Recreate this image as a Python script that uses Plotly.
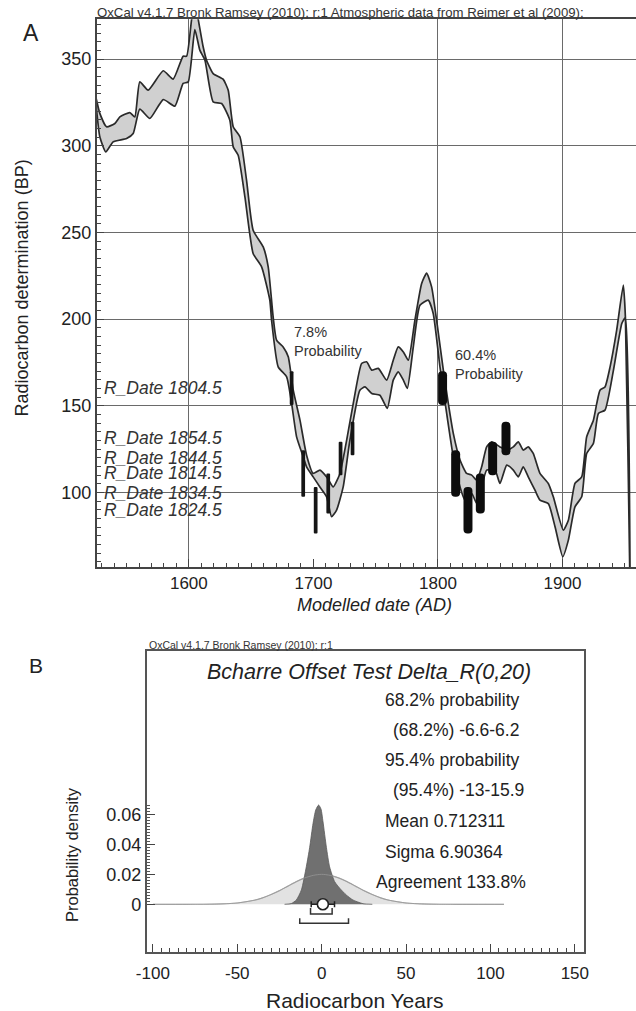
import plotly.graph_objects as go

W, H = 636, 1011
FONT = "Arial, Liberation Sans, sans-serif"

# ---------------- Panel A data ----------------
upper_year = [1525, 1528.5, 1533.9, 1540.6, 1544.6, 1552.6, 1556.6, 1560.6, 1567.3, 1579.4,
              1587.4, 1595.4, 1598.2, 1602.2, 1604.8, 1607.5, 1611.5, 1614.2, 1619.5, 1627.6,
              1631.6, 1635.6, 1641.0, 1646.3, 1651.6, 1659.7, 1663.7, 1667.7, 1670.4, 1675.7,
              1679.8, 1683.8, 1689.2, 1694.5, 1699.8, 1705.2, 1710.6, 1715.9, 1721.3, 1726.7,
              1732.0, 1738.7, 1742.7, 1746.8, 1752.1, 1758.8, 1764.1, 1768.1, 1772.2, 1776.2,
              1781.5, 1786.9, 1790.9, 1794.9, 1798.9, 1804.3, 1808.3, 1812.3, 1817.7, 1823.0,
              1827.1, 1831.1, 1835.1, 1839.1, 1843.1, 1849.8, 1855.2, 1860.5, 1864.5, 1868.5,
              1872.5, 1876.5, 1881.9, 1888.6, 1892.6, 1900.6, 1904.7, 1910.0, 1915.4, 1919.4,
              1924.8, 1927.5, 1930.1, 1934.1, 1938.2, 1943.5, 1948.8, 1950.5, 1954.3]
upper_bp = [329, 318.7, 311, 312.9, 316.7, 319.2, 316.7, 336.9, 332.1, 343.3,
            338.5, 351.7, 351.7, 373, 383, 373, 357, 349.4, 341.7, 338.3,
            332, 311, 305.2, 280.2, 251.3, 241.7, 230.2, 201, 187.9, 184,
            178.3, 159, 141.7, 121.5, 111, 112.9, 109, 103.2, 111, 130.2,
            151.4, 174.4, 175.4, 170.6, 171.6, 164.8, 176.3, 184, 181.1, 176.3,
            199.4, 220.6, 226.5, 218.6, 199.4, 170.6, 151.4, 134.1, 118.7, 111,
            110, 107.1, 114.8, 126.3, 129.2, 126.3, 124.4, 126.3, 129.2, 124.4,
            126.3, 122.5, 111, 105.2, 97.5, 78.3, 84, 105.2, 109, 132.1,
            141.7, 151.4, 159, 160.9, 172.5, 193.7, 219.6, 201, 40]

lower_year = [1525, 1528.5, 1533.3, 1539.2, 1550.0, 1555.3, 1560.6, 1568.7, 1579.4, 1588.8,
              1595.4, 1599.5, 1604.8, 1608.8, 1612.9, 1619.5, 1626.3, 1632.9, 1635.6, 1639.6,
              1645.0, 1651.6, 1658.4, 1665.0, 1666.4, 1671.7, 1678.5, 1682.5, 1686.5, 1691.8,
              1694.5, 1699.8, 1705.2, 1710.6, 1714.6, 1718.6, 1723.9, 1729.3, 1737.3, 1741.4,
              1746.8, 1753.4, 1759.3, 1764.1, 1768.1, 1772.2, 1775.4, 1780.2, 1785.5, 1792.2,
              1796.2, 1801.6, 1807.0, 1812.3, 1817.7, 1821.7, 1827.1, 1831.1, 1835.1, 1839.1,
              1845.8, 1849.8, 1855.2, 1860.5, 1864.5, 1868.5, 1872.5, 1877.9, 1881.9, 1888.6,
              1894.0, 1900.2, 1904.7, 1910.0, 1915.4, 1919.4, 1924.8, 1928.8, 1934.1, 1940.9,
              1947.6, 1950.5, 1954.3]
lower_bp = [329, 305.2, 296.5, 302.3, 304.2, 307.1, 321.2, 315.8, 326.7, 322.9,
            336, 336.9, 367, 355.2, 349.4, 325.4, 324.4, 314.8, 299.4, 294.6,
            270.6, 237.9, 230.2, 211, 199.4, 172.5, 166.7, 151.4, 132.1, 120.6,
            114.8, 109, 103.2, 97.5, 86, 89.8, 103.2, 130.2, 159, 160.9,
            157.1, 156.1, 148.5, 164.8, 169.6, 164.8, 160, 184, 208, 211,
            203.3, 172.5, 145.6, 120.6, 103.2, 95.6, 99.4, 93.6, 103.2, 112.9,
            112.9, 105.2, 115.8, 112.9, 109, 114.8, 109, 101.3, 95.6, 93.6,
            80.2, 62.9, 72.5, 91.7, 97.5, 122.5, 128.3, 145.6, 147.5, 170.6,
            197.5, 201, 40]

rdate_labels = ["R_Date 1804.5", "R_Date 1814.5", "R_Date 1824.5",
                "R_Date 1834.5", "R_Date 1844.5", "R_Date 1854.5"]
range_60_x = [1803.7, 1814.2, 1824.1, 1834.0, 1843.9, 1854.6]   # 60.4% probability ranges
range_8_x = [1682.5, 1691.8, 1701.8, 1711.9, 1721.8, 1731.4]    # 7.8% probability ranges
bp_low = [150.4, 97.5, 76.4, 87.9, 110.0, 121.5]
bp_high = [170.0, 124.4, 103.2, 111.0, 129.2, 140.8]

prob_labels = ["7.8%<br>Probability", "60.4%<br>Probability"]
prob_label_x = [1683.0, 1812.0]
prob_label_y = [187.3, 174.0]

xticks_a = [1600, 1700, 1800, 1900]
grid_x_a = [1600, 1800, 1900]
yticks_a = [100, 150, 200, 250, 300, 350]

# ---------------- Panel B data ----------------
prior_x = [-100, -80, -70, -60, -50, -40, -35, -30, -25, -20, -15, -10, -5, 0,
           5, 10, 15, 20, 25, 30, 35, 40, 50, 60, 70, 80, 108]
prior_d = [0, 0.00001, 0.00004, 0.00022, 0.00088, 0.0027, 0.0043, 0.0065, 0.0091, 0.0121,
           0.0151, 0.0176, 0.0193, 0.0200, 0.0193, 0.0176, 0.0151, 0.0121, 0.0091, 0.0065,
           0.0043, 0.0027, 0.00088, 0.00022, 0.00004, 0.00001, 0]
post_x = [-22, -18, -15, -12, -9.1, -7.1, -5.1, -3.5, -1.8, -0.4, 0.8, 2.8, 4.7, 7.7,
          10.7, 14.6, 18.5, 24.5, 30]
post_d = [0, 0.0005, 0.0029, 0.0096, 0.025, 0.038, 0.054, 0.0629, 0.0662, 0.0635, 0.055,
          0.038, 0.025, 0.0151, 0.0107, 0.0062, 0.0029, 0.0004, 0]
range68 = [-6.6, 6.2]
range95 = [-13.0, 15.9]
post_mean = 0.712311
post_sigma = 6.90364
xticks_b = [-100, -50, 0, 50, 100, 150]
yticks_b = [0, 0.02, 0.04, 0.06]
yticktext_b = ["0", "0.02", "0.04", "0.06"]
stats_lines = ["68.2% probability", "(68.2%) -6.6-6.2", "95.4% probability",
               "(95.4%) -13-15.9", "Mean 0.712311", "Sigma 6.90364", "Agreement 133.8%"]


def px(x):
    return x / W


def py(y):
    return 1 - y / H


fig = go.Figure()

# calibration band (closed polygon: upper then lower reversed)
fig.add_trace(go.Scatter(
    x=upper_year + lower_year[::-1], y=upper_bp + lower_bp[::-1],
    mode="lines", fill="toself", fillcolor="#d0d0d0",
    line=dict(color="#2a2a2a", width=1.7, shape="spline", smoothing=0.5),
    xaxis="x", yaxis="y", hoverinfo="skip", showlegend=False))

# probability ranges (on an overlay axis so that they sit above the band)
fig.add_trace(go.Bar(
    x=range_8_x, y=[h - l for h, l in zip(bp_high, bp_low)], base=bp_low, width=3.0,
    marker=dict(color="#151515", line=dict(width=0), cornerradius=2),
    xaxis="x3", yaxis="y", showlegend=False, hoverinfo="skip"))
fig.add_trace(go.Bar(
    x=range_60_x, y=[h - l for h, l in zip(bp_high, bp_low)], base=bp_low, width=7.2,
    marker=dict(color="#0d0d0d", line=dict(width=0), cornerradius=4),
    xaxis="x3", yaxis="y", showlegend=False, hoverinfo="skip"))

# Panel B: prior (light) and posterior (dark)
fig.add_trace(go.Scatter(
    x=prior_x, y=prior_d, mode="lines", fill="tozeroy", fillcolor="#e2e2e2",
    line=dict(color="#b4b4b4", width=1.2, shape="spline", smoothing=0.6),
    xaxis="x2", yaxis="y2", showlegend=False, hoverinfo="skip"))
fig.add_trace(go.Scatter(
    x=post_x, y=post_d, mode="lines", fill="tozeroy", fillcolor="#707070",
    line=dict(color="#5a5a5a", width=0.8, shape="spline", smoothing=0.6),
    xaxis="x2", yaxis="y2", showlegend=False, hoverinfo="skip"))
fig.add_trace(go.Scatter(
    x=prior_x, y=prior_d, mode="lines",
    line=dict(color="rgba(150,150,150,0.8)", width=1, shape="spline", smoothing=0.6),
    xaxis="x2", yaxis="y2", showlegend=False, hoverinfo="skip"))

# range brackets
for rng, yb, tick in [(range68, -0.0065, 0.004), (range95, -0.0127, 0.0034)]:
    fig.add_trace(go.Scatter(
        x=[rng[0], rng[0], rng[1], rng[1]], y=[yb + tick, yb, yb, yb + tick],
        mode="lines", line=dict(color="#333333", width=1.5),
        xaxis="x2", yaxis="y2", showlegend=False, hoverinfo="skip"))

# mean +/- sigma
fig.add_trace(go.Scatter(
    x=[post_mean], y=[0], mode="markers",
    marker=dict(size=11, color="white", line=dict(color="#222222", width=1.6)),
    error_x=dict(type="constant", value=post_sigma, color="#222222", thickness=1.5, width=3),
    xaxis="x2", yaxis="y2", showlegend=False, hoverinfo="skip"))

axis_font = dict(family=FONT, size=17, color="#222222")

fig.update_layout(
    width=W, height=H, margin=dict(l=0, r=0, t=0, b=0, autoexpand=False),
    paper_bgcolor="white", plot_bgcolor="white", barmode="overlay",
    showlegend=False,
    xaxis=dict(domain=[px(96.7), 1.0], range=[1526, 1959], anchor="y", automargin=False,
               tickmode="array", tickvals=xticks_a, ticktext=[str(v) for v in xticks_a],
               ticks="inside", ticklen=8, tickwidth=1.3, tickcolor="#444444",
               minor=dict(dtick=10, tick0=1500, ticks="inside", ticklen=4,
                          tickwidth=1, tickcolor="#444444"),
               showline=True, linecolor="#444444", linewidth=1.6, mirror=True,
               showgrid=False, zeroline=False, tickfont=axis_font),
    xaxis3=dict(overlaying="x", anchor="y", range=[1526, 1959], automargin=False,
                tickmode="array", tickvals=grid_x_a, showticklabels=False, ticks="",
                showgrid=True, gridcolor="#6a6a6a", gridwidth=1.2,
                showline=False, zeroline=False),
    yaxis=dict(domain=[py(567), py(19.3)], range=[57, 373], anchor="x", automargin=False,
               tickmode="array", tickvals=yticks_a, ticktext=[str(v) for v in yticks_a],
               ticks="inside", ticklen=7, tickwidth=1.3, tickcolor="#444444",
               minor=dict(dtick=5, tick0=0, ticks="inside", ticklen=4,
                          tickwidth=1, tickcolor="#444444"),
               showline=True, linecolor="#444444", linewidth=1.6,
               showgrid=True, gridcolor="#6a6a6a", gridwidth=1.2,
               zeroline=False, tickfont=dict(family=FONT, size=18, color="#222222")),
    xaxis2=dict(domain=[px(146.8), px(583.8)], range=[-103.6, 155.3], anchor="y2",
                automargin=False,
                tickmode="array", tickvals=xticks_b, ticktext=[str(v) for v in xticks_b],
                ticks="inside", ticklen=8, tickwidth=1.3, tickcolor="#444444",
                minor=dict(dtick=5, tick0=0, ticks="inside", ticklen=4,
                           tickwidth=1, tickcolor="#444444"),
                showline=True, linecolor="#555555", linewidth=2, mirror=True,
                showgrid=False, zeroline=False, ticklabelstandoff=4,
                tickfont=axis_font),
    yaxis2=dict(domain=[py(952.3), py(650.7)], range=[-0.032, 0.16907], anchor="x2",
                automargin=False,
                tickmode="array", tickvals=yticks_b, ticktext=yticktext_b,
                ticks="inside", ticklen=8, tickwidth=1.3, tickcolor="#444444",
                minor=dict(tickmode="array", tickvals=[i * 0.002 for i in range(0, 34)],
                           ticks="inside", ticklen=3, tickwidth=0.8, tickcolor="#555555"),
                showline=True, linecolor="#555555", linewidth=2, mirror=True,
                showgrid=False, zeroline=False,
                tickfont=dict(family=FONT, size=18, color="#222222")),
)

ann = []


def text(x, y, s, size, xanchor="center", italic=False, angle=0, color="#222222"):
    ann.append(dict(x=px(x), y=py(y), xref="paper", yref="paper", text=s, showarrow=False,
                    xanchor=xanchor, yanchor="middle", textangle=angle,
                    font=dict(family=FONT, size=size, color=color,
                              style="italic" if italic else "normal")))


text(30.5, 33, "A", 23)
text(35.7, 665.5, "B", 21)
text(95, 12.5, "OxCal v4.1.7 Bronk Ramsey (2010); r:1 Atmospheric data from Reimer et al (2009);",
     13.2, xanchor="left", color="#333333")
text(21.5, 288, "Radiocarbon determination (BP)", 18, angle=-90)
text(374, 605, "Modelled date (AD)", 18, italic=True)

# R_Date labels at the centre of their ranges
for lab, lo, hi in zip(rdate_labels, bp_low, bp_high):
    ann.append(dict(x=px(101.7), y=(lo + hi) / 2, xref="paper", yref="y", text=lab,
                    showarrow=False, xanchor="left", yanchor="middle",
                    font=dict(family=FONT, size=17.5, color="#333333", style="italic")))

for lab, lx, ly in zip(prob_labels, prob_label_x, prob_label_y):
    ann.append(dict(x=lx, y=ly, xref="x", yref="y", text=lab, showarrow=False,
                    xanchor="left", yanchor="middle", align="left",
                    font=dict(family=FONT, size=14.5, color="#333333")))

# Panel B texts
text(146.8, 645, "OxCal v4.1.7 Bronk Ramsey (2010); r:1", 10.5, xanchor="left", color="#333333")
text(369, 671.7, "Bcharre Offset Test Delta_R(0,20)", 21.5, italic=True)
stat_x = [383, 391, 383, 391, 383, 383, 374]
stat_y = [700, 730, 760, 790, 820.7, 851.7, 882.3]
for s, sx, sy in zip(stats_lines, stat_x, stat_y):
    text(sx, sy, s, 17.5, xanchor="left")
text(72, 855, "Probability density", 16.5, angle=-90)
text(354.6, 1000, "Radiocarbon Years", 21)

fig.update_layout(annotations=ann)
fig.write_html("out.html")
